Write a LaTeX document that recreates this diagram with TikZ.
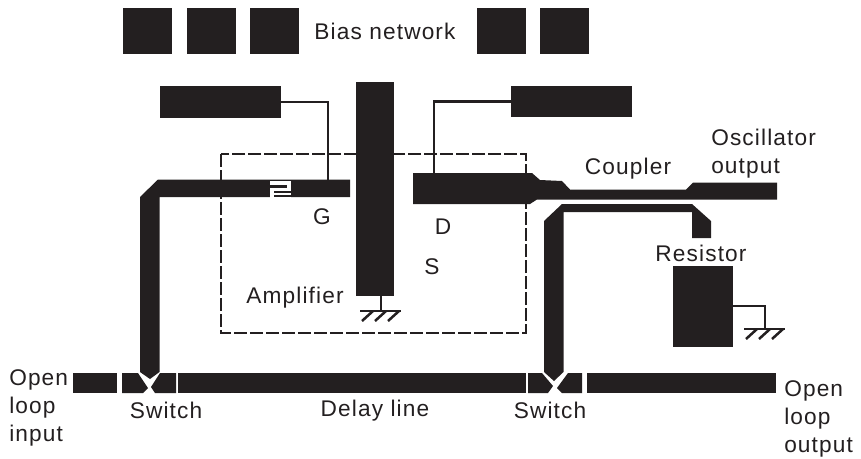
\documentclass[tikz,border=0pt]{standalone}
\usepackage{fontspec}
\setmainfont[LetterSpace=5]{Liberation Sans}
\usepackage{xcolor}
\definecolor{trace}{HTML}{231F20}
\begin{document}
\begin{tikzpicture}[x=0.75pt,y=-0.75pt,font=\fontsize{17}{21}\selectfont,
                    block/.style={fill=trace,inner sep=0pt,outer sep=0pt,anchor=north west},
                    plain/.style={inner sep=0pt,text=trace},
                    wire/.style={trace,line width=1.8pt},
                    metal/.style={fill=trace,draw=none},
                    earth/.style={trace,line width=1.9pt}]
  \useasboundingbox (0,0) rectangle (861,458);

  % bias network
  \foreach \n/\x in {bonea/123,btwo/187,bthree/250,bfour/477,bfive/540}{
    \node[block,minimum width=36.75pt,minimum height=34.5pt] (\n) at (\x,8) {};
  }
  \node[plain] (bias) at (385,31) {Bias network};

  \node[block,minimum width=90.75pt,minimum height=24pt] (gatebias) at (160,86) {};
  \node[block,minimum width=90.75pt,minimum height=23.25pt] (drainbias) at (511,86) {};
  \node[block,minimum width=28.5pt,minimum height=160.5pt] (amp) at (356,82) {};
  \node[block,minimum width=45pt,minimum height=60.75pt] (resistor) at (673,266) {};

  % gate and drain lines
  \coordinate (gatein) at (328,180);
  \coordinate (drainin) at (434,174);
  \draw[wire] (gatebias.east) -| (gatein);
  \draw[wire] (drainbias.west) -| (drainin);

  \fill[metal] (140,372) -- (140,197) -- (158,179.5) -- (350,179.5) -- (350,197)
               -- (159.5,197) -- (159.5,372) -- (150,379) -- cycle;
  % gap capacitor
  \fill[white] (270,181) rectangle (291,197.5);
  \fill[metal] (270,184.5) rectangle (287,187.5);
  \fill[metal] (274,190.5) rectangle (291,193);
  \fill[metal] (274,195) rectangle (291,197);

  \fill[metal] (413,173) -- (532,173) -- (540,180) -- (562,181) -- (570,189.5) -- (686,189.5)
               -- (693,182.5) -- (777,182.5) -- (777,199.5) -- (537,199.5) -- (530,204)
               -- (413,204) -- cycle;
  \fill[metal] (544,372) -- (544,221) -- (562,204) -- (692,204) -- (711,221) -- (711,238)
               -- (692,238) -- (692,212) -- (563.5,212) -- (563.5,372) -- (554,381) -- cycle;

  % delay line and switches
  \fill[metal] (73,373) rectangle (117,393);
  \fill[metal] (122,373) -- (138,373) -- (148,388) -- (143,393) -- (122,393) -- cycle;
  \fill[metal] (176,373) -- (160,373) -- (151,387) -- (155,393) -- (176,393) -- cycle;
  \fill[metal] (178,373) rectangle (526,393);
  \fill[metal] (528,373) -- (542,373) -- (553,386) -- (548,393) -- (528,393) -- cycle;
  \fill[metal] (582,373) -- (568,373) -- (557,388) -- (562,393) -- (582,393) -- cycle;
  \fill[metal] (587,373) rectangle (776,393);

  % amplifier outline
  \draw[trace,line width=2.2pt,dash pattern=on 9.5pt off 2.5pt] (221,154) rectangle (526,333);

  % grounds
  \coordinate (ampgnd) at (381,311);
  \coordinate (resgnd) at (765,329);
  \draw[wire] (amp.south -| ampgnd) -- (ampgnd);
  \draw[wire] (resistor.east |- 0,306) -| (resgnd);
  \foreach \p in {ampgnd,resgnd}{
    \draw[earth] ([xshift=-15.75pt]\p) -- ([xshift=15pt]\p);
    \foreach \d in {-8,5,18}{
      \draw[earth] ([xshift=\d*0.75pt]\p) -- ++(-11,10);
    }
  }

  % labels
  \node[plain] (glabel) at (322,217) {G};
  \node[plain] (dlabel) at (443,227) {D};
  \node[plain] (slabel) at (432,267) {S};
  \node[plain] (amplabel) at (295,298) {Amplifier};
  \node[plain] (couplabel) at (628,169) {Coupler};
  \node[plain,align=left,anchor=north west] (osclabel) at (711,129) {Oscillator\\output};
  \node[plain] (reslabel) at (701,253) {Resistor};
  \node[plain,align=left,anchor=north west] (inlabel) at (9,369) {Open\\loop\\input};
  \node[plain] (swone) at (166,410) {Switch};
  \node[plain] (delay) at (375,411) {Delay line};
  \node[plain] (swtwo) at (550,410) {Switch};
  \node[plain,align=left,anchor=north west] (outlabel) at (784,380) {Open\\loop\\output};
\end{tikzpicture}
\end{document}
